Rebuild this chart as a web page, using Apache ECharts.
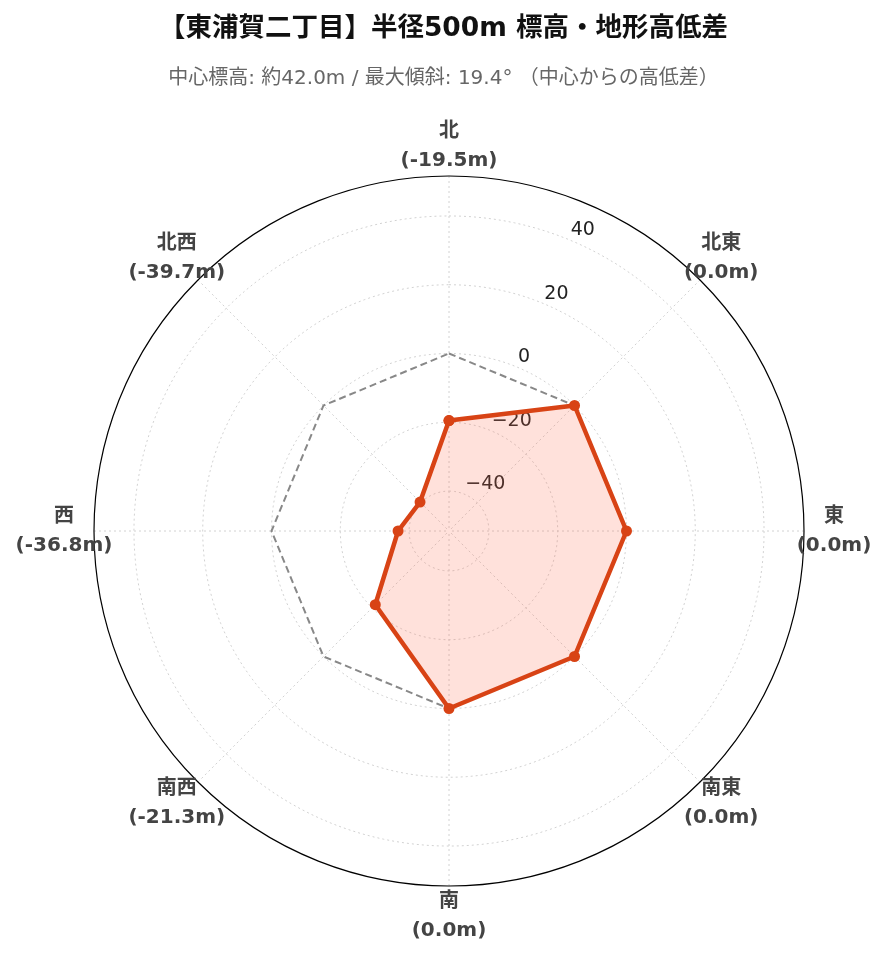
<!DOCTYPE html>
<html><head><meta charset="utf-8">
<script src="https://cdn.jsdelivr.net/npm/echarts@6/dist/echarts.min.js"></script>
<style>html,body{margin:0;padding:0;background:#fff}#c{width:887px;height:962px}</style>
</head><body><div id="c"></div>
<script>
const titleText = '【東浦賀二丁目】半径500m 標高・地形高低差';
const subtitleText = '中心標高: 約42.0m / 最大傾斜: 19.4° （中心からの高低差）';
const categories = ['北', '北東', '東', '南東', '南', '南西', '西', '北西'];
const diffValues = [-19.5, 0.0, 0.0, 0.0, 0.0, -21.3, -36.8, -39.7];
const refValues = [0, 0, 0, 0, 0, 0, 0, 0];
const radialTicks = [-40, -20, 0, 20, 40];
const radialRange = [-51.61, 51.61];

const step = 360 / categories.length;
const closed = (vals) => vals.concat([vals[0]]).map((v, i) => [v, i * step]);
const fmtMinus = (v) => (v < 0 ? '\u2212' + Math.abs(v) : String(v));
const FONT = '"DejaVu Sans", "Noto Sans CJK JP", sans-serif';

// gridline rings at each radial tick (drawn through the polar scale)
const ringAngles = [];
for (let a = 0; a <= 360; a += 2) ringAngles.push(a);
const gridStyle = { color: '#d2d2d2', type: [2, 3], width: 1 };
const ringSeries = radialTicks.map((t) => ({
  type: 'line', coordinateSystem: 'polar', polarIndex: 0, z: 1, silent: true,
  symbol: 'none', data: ringAngles.map((a) => [t, a]),
  lineStyle: gridStyle
}));

const chart = echarts.init(document.getElementById('c'));
const CX = 449, CY = 531, R = 355;
chart.setOption({
  backgroundColor: '#ffffff',
  animation: false,
  title: [{
    text: titleText, left: 'center', top: 11,
    textStyle: { fontFamily: FONT, fontSize: 26.5, fontWeight: 'bold', color: '#111' }
  }, {
    text: subtitleText, left: 'center', top: 64,
    textStyle: { fontFamily: FONT, fontSize: 20, fontWeight: 'normal', color: '#666' }
  }],
  polar: [
    { center: [CX, CY], radius: R },
    { center: [CX, CY], radius: 385 },
    { center: [CX, CY], radius: R }
  ],
  angleAxis: [{
    polarIndex: 0, type: 'value', min: 0, max: 360, interval: 45, startAngle: 90, clockwise: true, z: 2,
    axisLine: { show: true, lineStyle: { color: '#000', width: 1.2 } },
    axisTick: { show: false }, axisLabel: { show: false },
    splitLine: { show: true, lineStyle: gridStyle },
    splitArea: { show: false }
  }, {
    polarIndex: 1, type: 'value', min: 0, max: 360, startAngle: 90, clockwise: true, show: false
  }, {
    polarIndex: 2, type: 'value', min: 0, max: 360, interval: 360, startAngle: 67.5, clockwise: true, z: 0,
    axisLine: { show: false }, axisTick: { show: false }, axisLabel: { show: false },
    splitLine: { show: false },
    splitArea: { show: true, areaStyle: { color: ['#fafafa'] } }
  }],
  radiusAxis: [{
    polarIndex: 0, type: 'value', min: radialRange[0], max: radialRange[1], z: 2,
    axisLine: { show: false }, axisLabel: { show: false },
    axisTick: { show: false }, splitLine: { show: false }
  }, {
    polarIndex: 1, type: 'value', min: 0, max: 1, show: false
  }, {
    polarIndex: 2, type: 'value', min: radialRange[0], max: radialRange[1], z: 3,
    axisLine: { show: false }, axisTick: { show: false }, splitLine: { show: false },
    axisLabel: {
      show: true, customValues: radialTicks, formatter: fmtMinus,
      fontFamily: FONT, fontSize: 19, color: '#222', margin: 1,
      align: 'left', verticalAlign: 'bottom', padding: [0, 0, 0, 2]
    }
  }],
  series: ringSeries.concat([{
    type: 'line', coordinateSystem: 'polar', polarIndex: 0, z: 4,
    data: closed(refValues), symbol: 'none', silent: true,
    lineStyle: { color: '#888', width: 2, type: [7, 4] }
  }, {
    type: 'line', coordinateSystem: 'polar', polarIndex: 0, z: 5,
    data: closed(diffValues), symbol: 'circle', symbolSize: 11, showAllSymbol: true,
    itemStyle: { color: '#d84315', opacity: 1 },
    lineStyle: { color: '#d84315', width: 4.5 },
    areaStyle: { color: 'rgb(255,105,75)', opacity: 0.2, origin: 'start' }
  }, {
    type: 'scatter', coordinateSystem: 'polar', polarIndex: 1, z: 6,
    data: categories.map((c, i) => ({ name: c, value: [1, i * step] })),
    symbol: 'circle', symbolSize: 1, itemStyle: { color: 'rgba(0,0,0,0)', opacity: 1 }, silent: true,
    label: {
      show: true, position: 'inside', opacity: 1,
      formatter: (p) => '{a|' + p.name + '}\n{b|(' + diffValues[p.dataIndex].toFixed(1) + 'm)}',
      rich: {
        a: { fontFamily: FONT, fontSize: 20, fontWeight: 'bold', color: '#444', align: 'center', lineHeight: 29 },
        b: { fontFamily: FONT, fontSize: 20, fontWeight: 'bold', color: '#444', align: 'center', lineHeight: 29 }
      }
    }
  }])
});
</script></body></html>
